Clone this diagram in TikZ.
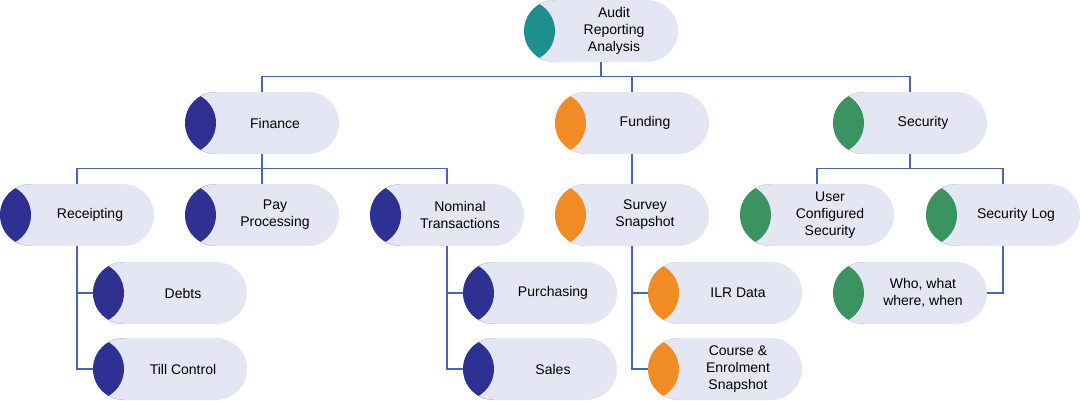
\documentclass[tikz,border=0pt]{standalone}
\usepackage{fontspec}
\setmainfont{Liberation Sans}
\usetikzlibrary{calc}
\definecolor{auditcol}{HTML}{1F8F8E}
\definecolor{fincol}{HTML}{2E3192}
\definecolor{fundcol}{HTML}{F08C23}
\definecolor{seccol}{HTML}{3A9360}
\definecolor{pillbg}{HTML}{E4E6F4}
\definecolor{linecol}{HTML}{4A63B4}
\tikzset{pill/.style={rectangle,rounded corners=31pt,minimum width=154pt,minimum height=62pt,
    fill=pillbg,inner sep=0pt,
    path picture={\fill[#1] (path picture bounding box.north west) rectangle
      ([xshift=31pt]path picture bounding box.south west);}}}
\tikzset{conn/.style={draw=linecol,line width=1.4pt}}
\tikzset{every label/.style={align=center,font=\fontsize{14}{17}\selectfont,xshift=13pt}}

\begin{document}
\begin{tikzpicture}[x=1pt,y=-1pt]
  \useasboundingbox (0,0) rectangle (1080,400);
  % top level
  \node[pill=auditcol,label={center:Audit\\Reporting\\Analysis}] (audit) at (601,31) {};
  \node[pill=fincol,label={center:Finance}] (fin) at (262,123) {};
  \node[pill=fundcol,label={center:Funding}] (fund) at (632,123) {};
  \node[pill=seccol,label={center:Security}] (sec) at (910,123) {};
  % third row
  \node[pill=fincol,label={center:Receipting}] (rec) at (77,215) {};
  \node[pill=fincol,label={center:Pay\\Processing}] (pay) at (262,215) {};
  \node[pill=fincol,label={center:Nominal\\Transactions}] (nom) at (447,215) {};
  \node[pill=fundcol,label={center:Survey\\Snapshot}] (survey) at (632,215) {};
  \node[pill=seccol,label={center:User\\Configured\\Security}] (user) at (817,215) {};
  \node[pill=seccol,label={center:Security Log}] (seclog) at (1003,215) {};
  % leaves
  \node[pill=fincol,label={center:Debts}] (debts) at (170,293) {};
  \node[pill=fincol,label={center:Till Control}] (till) at (170,369) {};
  \node[pill=fincol,label={center:Purchasing}] (purch) at (540,293) {};
  \node[pill=fincol,label={center:Sales}] (sales) at (540,369) {};
  \node[pill=fundcol,label={center:ILR Data}] (ilr) at (725,293) {};
  \node[pill=fundcol,label={center:Course \&\\Enrolment\\Snapshot}] (course) at (725,369) {};
  \node[pill=seccol,label={center:Who, what\\where, when}] (who) at (910,293) {};
  % connectors
  \draw[conn] (audit.south) -- ++(0,14) -| (fin.north);
  \draw[conn] (audit.south) -- ++(0,14) -| (sec.north);
  \draw[conn] (fund.north) -- ++(0,-16);
  \draw[conn] (fin.south) -- ++(0,14) -| (rec.north);
  \draw[conn] (fin.south) -- ++(0,14) -| (nom.north);
  \draw[conn] (fin.south) -- (pay.north);
  \draw[conn] (fund.south) -- (survey.north);
  \draw[conn] (sec.south) -- ++(0,14) -| (user.north);
  \draw[conn] (sec.south) -- ++(0,14) -| (seclog.north);
  \draw[conn] (rec.south) |- (till.west);
  \draw[conn] (rec.south|-debts.west) -- (debts.west);
  \draw[conn] (nom.south) |- (sales.west);
  \draw[conn] (nom.south|-purch.west) -- (purch.west);
  \draw[conn] (survey.south) |- (course.west);
  \draw[conn] (survey.south|-ilr.west) -- (ilr.west);
  \draw[conn] (seclog.south) |- (who.east);
\end{tikzpicture}
\end{document}
